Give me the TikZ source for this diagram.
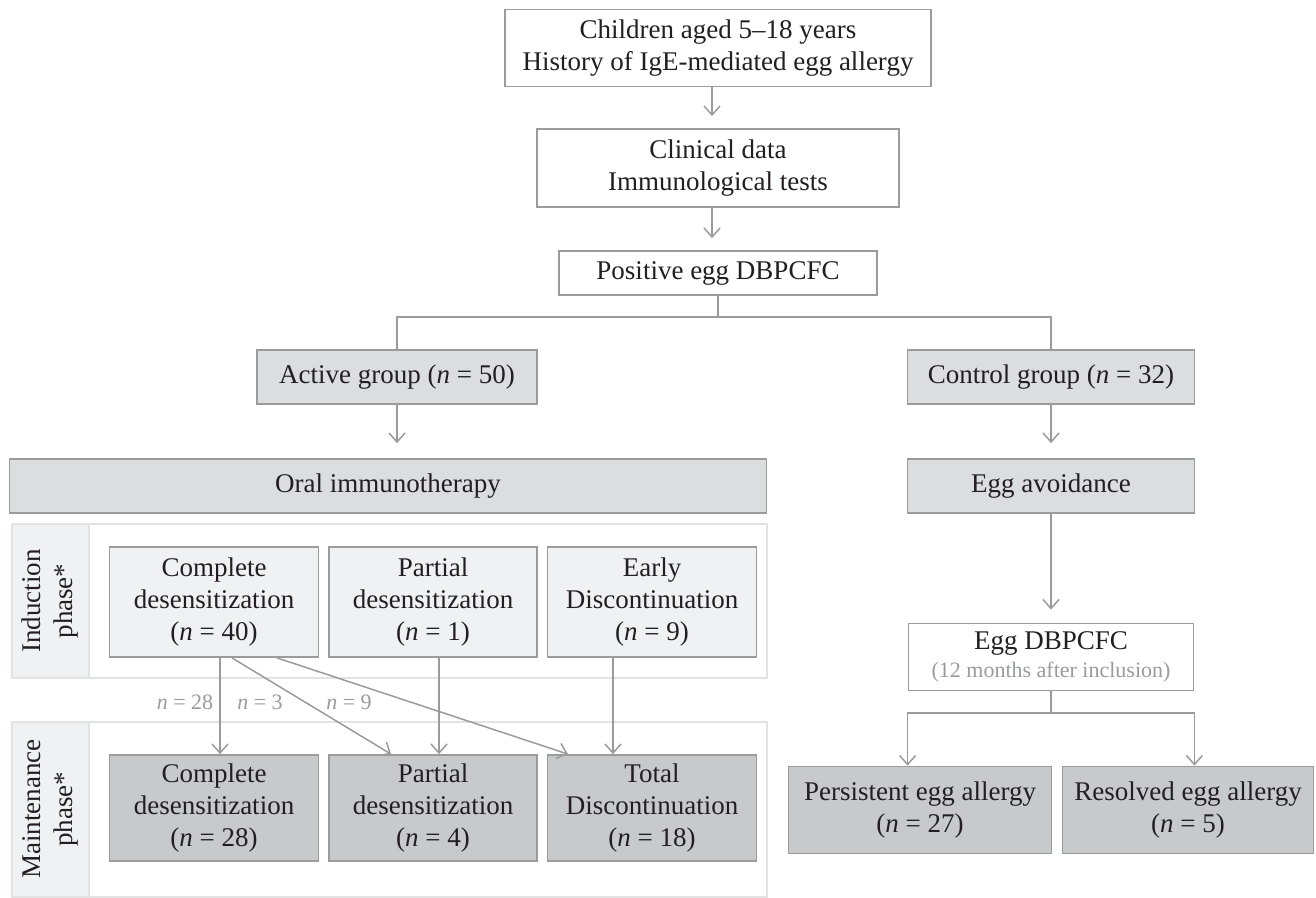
\documentclass[tikz,border=0pt]{standalone}
\usepackage{fontspec}
\setmainfont{Liberation Serif}
\usetikzlibrary{arrows.meta}
\definecolor{edge}{HTML}{9B9B9B}
\definecolor{ink}{HTML}{231F20}
\definecolor{note}{HTML}{9A9BA0}
\definecolor{pale}{HTML}{F0F1F3}
\definecolor{mid}{HTML}{DCDDDF}
\definecolor{dark}{HTML}{C8C9CB}
\definecolor{rim}{HTML}{E3E3E3}
\tikzset{>={Straight Barb[length=9pt,width=16pt]}}
\tikzset{
	box/.style={draw=edge, line width=1.8pt, fill=white, align=center, inner sep=0pt,
		text=ink, font=\fontsize{27}{32}\selectfont},
	palebox/.style={box, fill=pale},
	midbox/.style={box, fill=mid},
	darkbox/.style={box, fill=dark},
	flow/.style={draw=edge, line width=1.5pt},
	count/.style={text=note, font=\fontsize{22}{26}\selectfont, inner sep=0pt},
}

\begin{document}
\begin{tikzpicture}[x=1pt, y=-1pt]
		\useasboundingbox (0,0) rectangle (1316,897);

		% the two phase panels
		\draw[rim, line width=1.5pt] (12,524) rectangle (767,678);
		\draw[rim, line width=1.5pt, fill=pale] (12,524) rectangle (89,678);
		\draw[rim, line width=1.5pt] (12,722) rectangle (767,897);
		\draw[rim, line width=1.5pt, fill=pale] (12,722) rectangle (89,897);
		\node[rotate=90, align=center, text=ink, font=\fontsize{27}{32}\selectfont] (induct) at (50,601) {Induction\\phase*};
		\node[rotate=90, align=center, text=ink, font=\fontsize{27}{32}\selectfont] (maint) at (50,809) {Maintenance\\phase*};

		% screening
		\node[box, minimum width=426pt, minimum height=77pt] (child) at (718,48) {Children aged 5--18 years\\History of IgE-mediated egg allergy};
		\node[box, minimum width=362pt, minimum height=78pt] (clin) at (718,168) {Clinical data\\Immunological tests};
		\node[box, minimum width=318pt, minimum height=44pt] (pos) at (718,273) {Positive egg DBPCFC};
		\coordinate (split) at (718,317);

		% groups
		\node[midbox, minimum width=280pt, minimum height=54pt] (active) at (397,377) {Active group (\textit{n}~=~50)};
		\node[midbox, minimum width=287pt, minimum height=54pt] (control) at (1051,377) {Control group (\textit{n}~=~32)};
		\node[midbox, minimum width=757pt, minimum height=54pt] (oral) at (388,486) {Oral immunotherapy};
		\node[midbox, minimum width=287pt, minimum height=54pt] (avoid) at (1051,486) {Egg avoidance};

		% induction phase
		\node[palebox, minimum width=209pt, minimum height=110pt] (icomp) at (214,602) {Complete\\desensitization\\(\textit{n}~=~40)};
		\node[palebox, minimum width=208pt, minimum height=110pt] (ipart) at (433,602) {Partial\\desensitization\\(\textit{n}~=~1)};
		\node[palebox, minimum width=209pt, minimum height=110pt] (iearly) at (652,602) {Early\\Discontinuation\\(\textit{n}~=~9)};

		% maintenance phase
		\node[darkbox, minimum width=209pt, minimum height=106pt] (mcomp) at (214,808) {Complete\\desensitization\\(\textit{n}~=~28)};
		\node[darkbox, minimum width=208pt, minimum height=106pt] (mpart) at (433,808) {Partial\\desensitization\\(\textit{n}~=~4)};
		\node[darkbox, minimum width=209pt, minimum height=106pt] (mtotal) at (652,808) {Total\\Discontinuation\\(\textit{n}~=~18)};

		% control arm outcome
		\node[box, minimum width=285pt, minimum height=67pt] (eggdb) at (1051,657) {Egg DBPCFC\\[-4pt]{\color{note}\fontsize{22}{26}\selectfont (12 months after inclusion)}};
		\coordinate (split2) at (1051,713);
		\node[darkbox, minimum width=263pt, minimum height=87pt] (persist) at (920,810) {Persistent egg allergy\\(\textit{n}~=~27)};
		\node[darkbox, minimum width=251pt, minimum height=87pt] (resolve) at (1188,810) {Resolved egg allergy\\(\textit{n}~=~5)};

		% connectors
		\draw[flow, ->, shorten >=12pt] ([xshift=-6pt]child.south) -- ([xshift=-6pt]clin.north);
		\draw[flow, ->, shorten >=12pt] ([xshift=-6pt]clin.south) -- ([xshift=-6pt]pos.north);
		\draw[flow] (pos.south) -- (split);
		\draw[flow] (active.north) |- (split) -| (control.north);
		\draw[flow, ->, shorten >=15pt] (active) -- (active |- oral.north);
		\draw[flow, ->, shorten >=15pt] (control) -- (control |- avoid.north);
		\draw[flow, ->, shorten >=13pt] (avoid) -- (avoid |- eggdb.north);
		\draw[flow] (eggdb.south) -- (split2);
		\draw[flow, ->] (split2) -| (eggdb.west |- persist.north);
		\draw[flow, ->] (split2) -| (eggdb.east |- resolve.north);

		\draw[flow, ->] ([xshift=6pt]icomp.south) -- ([xshift=6pt]mcomp.north);
		\draw[flow, ->] ([xshift=18pt]icomp.south) -- ([xshift=-42pt]mpart.north);
		\draw[flow, ->] ([xshift=63pt]icomp.south) -- ([xshift=-84pt]mtotal.north);
		\draw[flow, ->] ([xshift=6pt]ipart.south) -- ([xshift=6pt]mpart.north);
		\draw[flow, ->] ([xshift=-39pt]iearly.south) -- ([xshift=-39pt]mtotal.north);

		\node[count] (c28) at (185,702) {\textit{n}~=~28};
		\node[count] (c3) at (260,702) {\textit{n}~=~3};
		\node[count] (c9) at (349,702) {\textit{n}~=~9};

	\end{tikzpicture}
\end{document}
